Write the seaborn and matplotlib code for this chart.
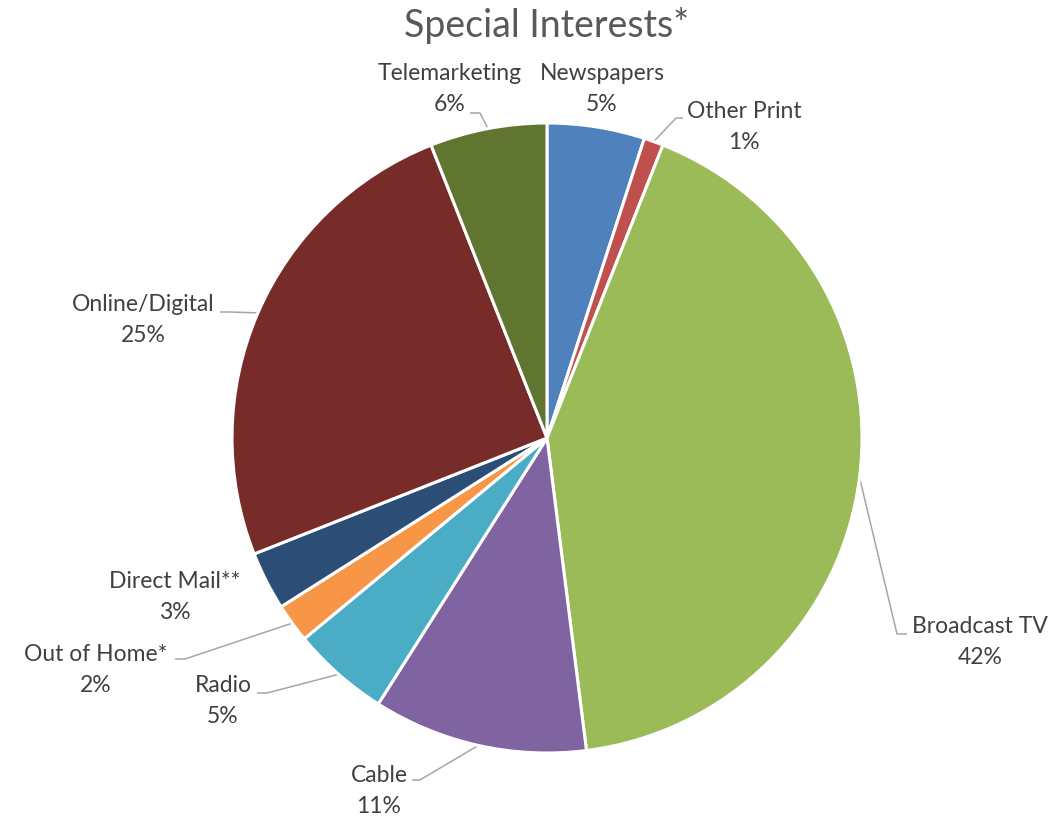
import matplotlib
matplotlib.use("Agg")
import matplotlib.pyplot as plt
import seaborn as sns
import numpy as np

# Media spend shares for special-interest advertisers
categories = ["Newspapers", "Other Print", "Broadcast TV", "Cable", "Radio",
              "Out of Home*", "Direct Mail**", "Online/Digital", "Telemarketing"]
shares = [5, 1, 42, 11, 5, 2, 3, 25, 6]
colors = ["#4F81BD", "#C0504D", "#9BBB59", "#8064A2", "#4BACC6",
          "#F79646", "#2C4D75", "#772C2A", "#5F7530"]

sns.set_theme(style="white")
plt.rcParams["font.family"] = ["Lato", "DejaVu Sans"]

W, H = 1061, 819
fig = plt.figure(figsize=(W / 100, H / 100), dpi=100)
ax = fig.add_axes([0, 0, 1, 1])

cx, cy, R = 547, H - 438, 315

wedges, _ = ax.pie(shares, colors=colors, startangle=90, counterclock=False,
                   center=(cx, cy), radius=R, frame=True,
                   wedgeprops=dict(edgecolor="white", linewidth=2.2))
ax.set_xlim(0, W)
ax.set_ylim(0, H)
ax.set_aspect("equal")
ax.axis("off")


def top(y):
    return H - y


# label block centres (x, y measured from the top edge)
label_pos = {
    "Newspapers": (602, 89),
    "Other Print": (744, 127),
    "Broadcast TV": (980, 642),
    "Cable": (379, 791),
    "Radio": (223, 701),
    "Out of Home*": (96, 670),
    "Direct Mail**": (175, 597),
    "Online/Digital": (143, 320),
    "Telemarketing": (450, 89),
}
# leader lines: point next to the text, then the elbow, then the slice edge
leader_path = {
    "Other Print": [(683, 118), (676, 118)],
    "Broadcast TV": [(907, 634), (897, 634)],
    "Cable": [(412, 780), (420, 780)],
    "Radio": [(257, 693), (267, 693)],
    "Out of Home*": [(175, 659), (185, 659)],
    "Online/Digital": [(220, 312), (230, 312)],
    "Telemarketing": [(470, 113), (480, 113)],
}

text_color = "#404040"
for w, name, val in zip(wedges, categories, shares):
    lx, ly = label_pos[name]
    ax.text(lx, top(ly), f"{name}\n{val}%", ha="center", va="center",
            multialignment="center", fontsize=16.5, color=text_color,
            linespacing=1.6)
    if name in leader_path:
        mid = np.deg2rad((w.theta1 + w.theta2) / 2)
        ex, ey = cx + R * np.cos(mid), cy + R * np.sin(mid)
        (x0, y0), (x1, y1) = leader_path[name]
        ax.plot([x0, x1, ex], [top(y0), top(y1), ey], color="#A6A6A6",
                linewidth=1.1, solid_capstyle="butt", zorder=0.5)

ax.text(547, top(25), "Special Interests*", ha="center", va="center",
        fontsize=27, color="#595959")

fig.savefig("out.png", dpi=100)
